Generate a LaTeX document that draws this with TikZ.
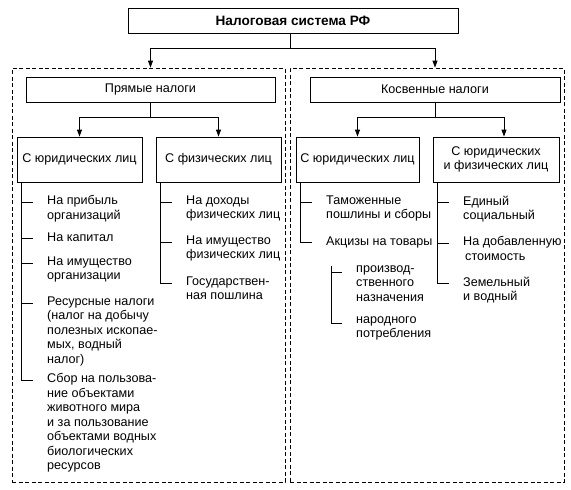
\documentclass[tikz,border=0pt]{standalone}
\usepackage{fontspec}
\setmainfont{Liberation Sans}
\usetikzlibrary{arrows.meta,calc}

\tikzset{
  taxbox/.style={draw, line width=0.8pt, inner sep=0pt, align=center},
  taxitem/.style={anchor=north west, inner sep=0pt, align=left, yshift=6.5pt,
    execute at begin node=\strut},
  branch/.style={line width=0.8pt},
  pointer/.style={line width=0.8pt, -{Triangle[length=7pt,width=5pt]}},
  panel/.style={draw, line width=0.8pt, dash pattern=on 4pt off 2.5pt, inner sep=0pt},
}

\begin{document}
\begin{tikzpicture}[x=1pt, y=-1pt, font=\fontsize{12.6}{14.5}\selectfont]
    \useasboundingbox (0,0) rectangle (571,490);

    % panels
    \node[panel, minimum width=273pt, minimum height=414pt] (direct) at (148.5,275) {};
    \node[panel, minimum width=274pt, minimum height=414pt] (indirect) at (427,275) {};

    % boxes
    \node[taxbox, minimum width=330pt, minimum height=25pt, font=\fontsize{13.6}{15}\selectfont\bfseries] (root) at (293,20.5) {Налоговая система РФ};
    \node[taxbox, minimum width=249pt, minimum height=25pt] (pryamye) at (150.5,89.5) {Прямые налоги};
    \node[taxbox, minimum width=250pt, minimum height=25pt] (kosvennye) at (435,89.5) {Косвенные налоги};
    \node[taxbox, minimum width=125pt, minimum height=45pt] (legalP) at (79.5,159.5) {С юридических лиц};
    \node[taxbox, minimum width=125pt, minimum height=45pt] (naturalP) at (218.5,159.5) {С физических лиц};
    \node[taxbox, minimum width=123pt, minimum height=45pt] (legalK) at (357.5,159.5) {С юридических лиц};
    \node[taxbox, minimum width=126pt, minimum height=45pt] (bothK) at (496,159.5) {С юридических\\и физических лиц};

    % arrows
    \coordinate (rootfork) at ($(root.south)+(-3,15)$);
    \draw[branch] (rootfork |- root.south) -- (rootfork);
    \draw[pointer] (rootfork) -| (pryamye.north |- direct.north);
    \draw[pointer] (rootfork) -| (kosvennye.north |- indirect.north);

    \coordinate (pfork) at ($(pryamye.south)+(0,15)$);
    \draw[branch] (pryamye.south) -- (pfork);
    \draw[pointer] (pfork) -| (legalP.north);
    \draw[pointer] (pfork) -| (naturalP.north);

    \coordinate (kfork) at ($(kosvennye.south)+(0,15)$);
    \draw[branch] (kosvennye.south) -- (kfork);
    \draw[pointer] (kfork) -| (legalK.north);
    \draw[pointer] (kfork) -| ($(bothK.north)+(8,0)$);

    % direct taxes, legal persons
    \node[taxitem] (a1) at (47,202) {На прибыль\\организаций};
    \node[taxitem] (a2) at (47,238) {На капитал};
    \node[taxitem] (a3) at (47,263) {На имущество\\организации};
    \node[taxitem] (a4) at (47,303) {Ресурсные налоги\\(налог на добычу\\полезных ископае-\\мых, водный\\налог)};
    \node[taxitem] (a5) at (47,380) {Сбор на пользова-\\ние объектами\\животного мира\\и за пользование\\объектами водных\\биологических\\ресурсов};

    % direct taxes, natural persons
    \node[taxitem] (b1) at (186,202) {На доходы\\физических лиц};
    \node[taxitem] (b2) at (186,242) {На имущество\\физических лиц};
    \node[taxitem] (b3) at (186,283) {Государствен-\\ная пошлина};

    % indirect taxes, legal persons
    \node[taxitem] (c1) at (326,202) {Таможенные\\пошлины и сборы};
    \node[taxitem] (c2) at (326,242) {Акцизы на товары};
    \node[taxitem] (c3) at (356,272) {производ-\\ственного\\назначения};
    \node[taxitem] (c4) at (356,323) {народного\\потребления};

    % indirect taxes, legal and natural persons
    \node[taxitem] (d1) at (463,202) {Единый\\социальный};
    \node[taxitem] (d2) at (463,243) {На добавленную\\\hspace{2pt}стоимость};
    \node[taxitem] (d3) at (463,283) {Земельный\\и водный};

    % trunks and ticks
    \draw[branch] ($(legalP.south west)+(5,0)$) |- ($(a5.north west)+(-14,6.5)$);
    \draw[branch] ($(naturalP.south west)+(5,0)$) |- ($(b3.north west)+(-14,6.5)$);
    \draw[branch] ($(legalK.south west)+(5,0)$) |- ($(c2.north west)+(-14,6.5)$);
    \draw[branch] ($(bothK.south west)+(5,0)$) |- ($(d3.north west)+(-14,6.5)$);
    \draw[branch] ($(c3.north west)+(-25,0)$ |- c2.south) |- ($(c4.north west)+(-14,6.5)$);
    \foreach \i in {a1,a2,a3,a4,b1,b2,c1,c3,d1,d2}
        \draw[branch] ($(\i.north west)+(-25,6.5)$) -- ++(11,0);
\end{tikzpicture}
\end{document}
